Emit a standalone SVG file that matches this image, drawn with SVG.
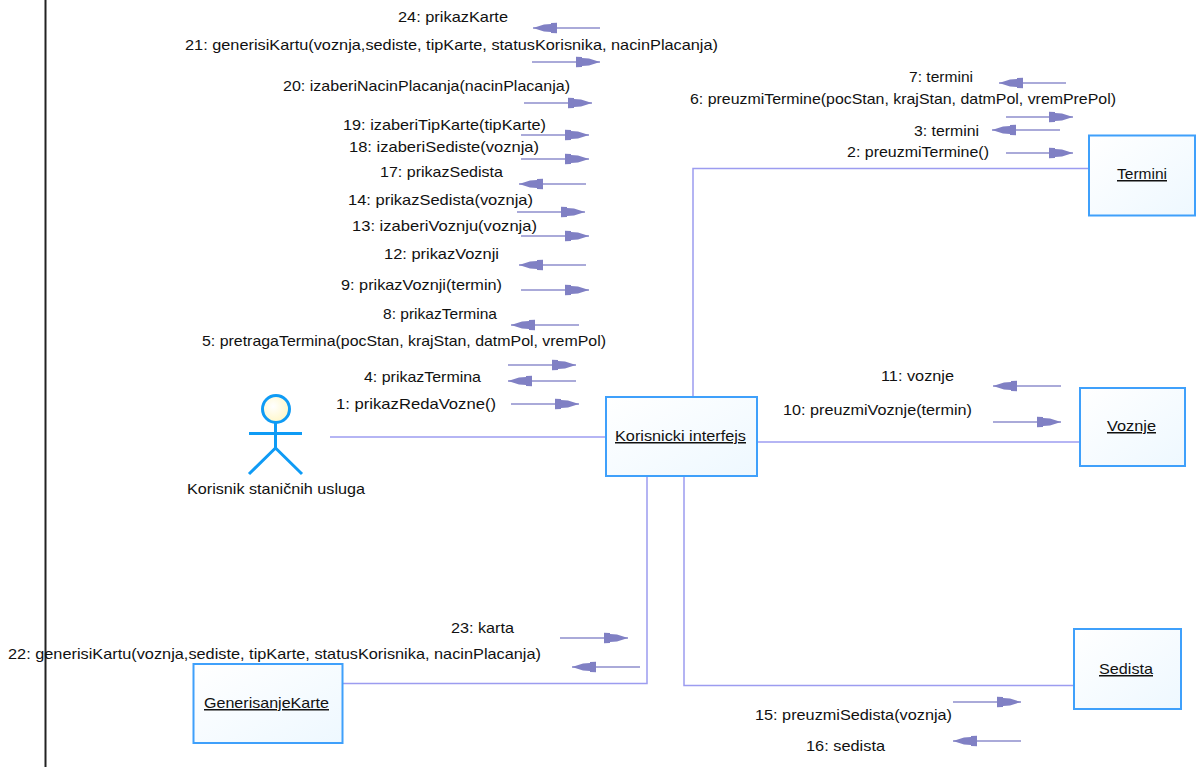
<svg xmlns="http://www.w3.org/2000/svg" width="1201" height="767" viewBox="0 0 1201 767">
<style>
text{font-family:"Liberation Sans",Arial,sans-serif;font-size:15px;fill:#111}
.m{text-anchor:start}
.n{text-anchor:start;text-decoration:underline}
.box{fill:url(#g);stroke:#3fa0fb;stroke-width:2}
.c{fill:none;stroke:#9c9cf0;stroke-width:1.5}
.a{fill:none;stroke:#8e8ecc;stroke-width:1.5;marker-end:url(#h)}
.act{fill:none;stroke:#0f9bf5;stroke-width:3}
</style>
<defs>
<linearGradient id="g" x1="0" y1="0" x2="1" y2="1"><stop offset="0" stop-color="#ffffff"/><stop offset="1" stop-color="#eef8ff"/></linearGradient>
<radialGradient id="hd" cx=".4" cy=".4" r=".7"><stop offset="0" stop-color="#ffffff"/><stop offset="1" stop-color="#fff6c0"/></radialGradient>
<marker id="h" markerUnits="userSpaceOnUse" markerWidth="26" markerHeight="14" refX="24" refY="7" orient="auto"><path d="M0 1.800 L6 2 L6 3 L13 3.500 L24 7 L13 10.500 L6 11 L6 12 L0 12.200 Z" fill="#8080c4"/></marker>
</defs>
<rect width="1201" height="767" fill="#fff"/>
<path d="M45.500 0V767" stroke="#222" stroke-width="2" fill="none"/>
<g id="connectors">
<path class="c" d="M693 398V168.500H1089"/>
<path class="c" d="M330 437H606"/>
<path class="c" d="M757 442H1080"/>
<path class="c" d="M647 476V683.500H343"/>
<path class="c" d="M684 476V685.500H1074"/>
<path class="a" d="M600 28H533"/>
<path class="a" d="M532 62H600"/>
<path class="a" d="M524 103H592"/>
<path class="a" d="M521 135H589"/>
<path class="a" d="M521 159H589"/>
<path class="a" d="M586 184H519"/>
<path class="a" d="M517 212H585"/>
<path class="a" d="M521 236H589"/>
<path class="a" d="M586 265H519"/>
<path class="a" d="M521 290H589"/>
<path class="a" d="M579 325H511"/>
<path class="a" d="M508 365H576"/>
<path class="a" d="M576 381H508"/>
<path class="a" d="M511 404H579"/>
<path class="a" d="M1066 83H999"/>
<path class="a" d="M1006 117H1073"/>
<path class="a" d="M1060 130H992"/>
<path class="a" d="M1006 153H1073"/>
<path class="a" d="M1061 386H993"/>
<path class="a" d="M993 422H1061"/>
<path class="a" d="M560 638H628"/>
<path class="a" d="M640 667H572"/>
<path class="a" d="M953 702H1021"/>
<path class="a" d="M1021 741H953"/>
</g>
<g id="messages">
<text lengthAdjust="spacingAndGlyphs" textLength="110" x="398" y="22" class="m">24: prikazKarte</text>
<text lengthAdjust="spacingAndGlyphs" textLength="533" x="185" y="50" class="m">21: generisiKartu(voznja,sediste, tipKarte, statusKorisnika, nacinPlacanja)</text>
<text lengthAdjust="spacingAndGlyphs" textLength="287" x="283" y="91" class="m">20: izaberiNacinPlacanja(nacinPlacanja)</text>
<text lengthAdjust="spacingAndGlyphs" textLength="203" x="343" y="130" class="m">19: izaberiTipKarte(tipKarte)</text>
<text lengthAdjust="spacingAndGlyphs" textLength="190" x="349" y="152" class="m">18: izaberiSediste(voznja)</text>
<text lengthAdjust="spacingAndGlyphs" textLength="123" x="380" y="177" class="m">17: prikazSedista</text>
<text lengthAdjust="spacingAndGlyphs" textLength="185" x="348" y="205" class="m">14: prikazSedista(voznja)</text>
<text lengthAdjust="spacingAndGlyphs" textLength="185" x="352" y="231" class="m">13: izaberiVoznju(voznja)</text>
<text lengthAdjust="spacingAndGlyphs" textLength="115" x="384" y="259" class="m">12: prikazVoznji</text>
<text lengthAdjust="spacingAndGlyphs" textLength="161" x="341" y="290" class="m">9: prikazVoznji(termin)</text>
<text lengthAdjust="spacingAndGlyphs" textLength="114" x="383" y="319" class="m">8: prikazTermina</text>
<text lengthAdjust="spacingAndGlyphs" textLength="404" x="202" y="346" class="m">5: pretragaTermina(pocStan, krajStan, datmPol, vremPol)</text>
<text lengthAdjust="spacingAndGlyphs" textLength="117" x="364" y="382" class="m">4: prikazTermina</text>
<text lengthAdjust="spacingAndGlyphs" textLength="160" x="336" y="409" class="m">1: prikazRedaVozne()</text>
<text lengthAdjust="spacingAndGlyphs" textLength="64" x="909" y="82" class="m">7: termini</text>
<text lengthAdjust="spacingAndGlyphs" textLength="426" x="690" y="104" class="m">6: preuzmiTermine(pocStan, krajStan, datmPol, vremPrePol)</text>
<text lengthAdjust="spacingAndGlyphs" textLength="65" x="914" y="136" class="m">3: termini</text>
<text lengthAdjust="spacingAndGlyphs" textLength="142" x="847" y="157" class="m">2: preuzmiTermine()</text>
<text lengthAdjust="spacingAndGlyphs" textLength="73" x="881" y="381" class="m">11: voznje</text>
<text lengthAdjust="spacingAndGlyphs" textLength="189" x="783" y="415" class="m">10: preuzmiVoznje(termin)</text>
<text lengthAdjust="spacingAndGlyphs" textLength="63" x="451" y="633" class="m">23: karta</text>
<text lengthAdjust="spacingAndGlyphs" textLength="533" x="8" y="659" class="m">22: generisiKartu(voznja,sediste, tipKarte, statusKorisnika, nacinPlacanja)</text>
<text lengthAdjust="spacingAndGlyphs" textLength="197" x="755" y="720" class="m">15: preuzmiSedista(voznja)</text>
<text lengthAdjust="spacingAndGlyphs" textLength="79" x="806" y="751" class="m">16: sedista</text>
</g>
<g id="actor">
<circle cx="276" cy="409" r="13.500" fill="url(#hd)" stroke="#0f9bf5" stroke-width="3"/>
<path class="act" d="M249 433.500H302M275.500 423V448M275.500 448L249 474M275.500 448L302 474"/>
<text lengthAdjust="spacingAndGlyphs" textLength="178" x="187" y="494">Korisnik staničnih usluga</text>
</g>
<g id="termini"><rect class="box" x="1089" y="135.500" width="106" height="80"/><text lengthAdjust="spacingAndGlyphs" textLength="50" class="n" x="1117" y="179">Termini</text></g>
<g id="korisnicki"><rect class="box" x="606" y="397" width="151" height="79"/><text lengthAdjust="spacingAndGlyphs" textLength="131" class="n" x="615" y="441">Korisnicki interfejs</text></g>
<g id="voznje"><rect class="box" x="1080" y="388" width="105" height="78"/><text lengthAdjust="spacingAndGlyphs" textLength="49" class="n" x="1107" y="431">Voznje</text></g>
<g id="sedista"><rect class="box" x="1074" y="629" width="107" height="80"/><text lengthAdjust="spacingAndGlyphs" textLength="54" class="n" x="1099" y="674">Sedista</text></g>
<g id="generisanje"><rect class="box" x="193.500" y="664" width="149" height="79"/><text lengthAdjust="spacingAndGlyphs" textLength="125" class="n" x="204" y="708">GenerisanjeKarte</text></g>
</svg>
